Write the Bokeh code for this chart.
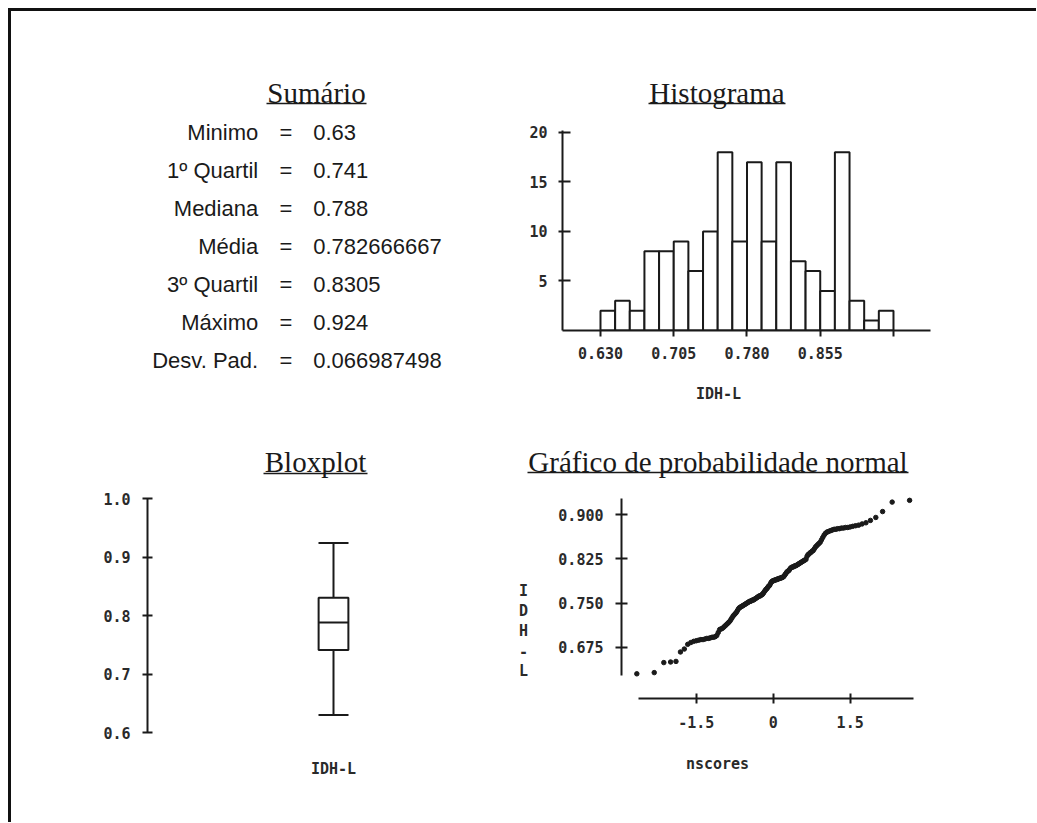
from statistics import NormalDist

from bokeh.plotting import figure
from bokeh.models import (Range1d, FixedTicker, Whisker, TeeHead,
                          Spacer, ColumnDataSource, PrintfTickFormatter)
from bokeh.layouts import row, column
from bokeh.embed import file_html
from bokeh.resources import INLINE
from bokeh.core.properties import value

# ---------------- data ----------------
summary_labels = ["Minimo", "1º Quartil", "Mediana", "Média", "3º Quartil", "Máximo", "Desv. Pad."]
summary_values = ["0.63", "0.741", "0.788", "0.782666667", "0.8305", "0.924", "0.066987498"]

hist_left = [0.630, 0.645, 0.660, 0.675, 0.690, 0.705, 0.720, 0.735, 0.750, 0.765,
             0.780, 0.795, 0.810, 0.825, 0.840, 0.855, 0.870, 0.885, 0.900, 0.915]
hist_right = [0.645, 0.660, 0.675, 0.690, 0.705, 0.720, 0.735, 0.750, 0.765, 0.780,
              0.795, 0.810, 0.825, 0.840, 0.855, 0.870, 0.885, 0.900, 0.915, 0.930]
hist_counts = [2, 3, 2, 8, 8, 9, 6, 10, 18, 9, 17, 9, 17, 7, 6, 4, 18, 3, 1, 2]
hist_ticks = [0.630, 0.705, 0.780, 0.855]
hist_minor = [0.930]
hist_yticks = [5, 10, 15, 20]

box_category = ["IDH-L"]
box_min = [0.63]
box_q1 = [0.741]
box_median = [0.788]
box_q3 = [0.8305]
box_max = [0.924]
box_yticks = [0.6, 0.7, 0.8, 0.9, 1.0]

idh_sorted = [
    0.630, 0.632,
    0.649, 0.650, 0.651,
    0.667, 0.672,
    0.680, 0.683, 0.685, 0.686, 0.687, 0.688, 0.688, 0.689,
    0.690, 0.690, 0.691, 0.692, 0.692, 0.693, 0.695, 0.700,
    0.705, 0.706, 0.707, 0.709, 0.711, 0.713, 0.715, 0.717, 0.719,
    0.722, 0.725, 0.728, 0.730, 0.732, 0.734,
    0.737, 0.740, 0.742, 0.743, 0.744, 0.745, 0.746, 0.747, 0.748, 0.749,
    0.750, 0.751, 0.752, 0.753, 0.753, 0.754, 0.755, 0.755, 0.756, 0.757, 0.758, 0.759,
    0.760, 0.761, 0.762, 0.762, 0.763, 0.764,
    0.765, 0.767, 0.769, 0.771, 0.773, 0.774, 0.776, 0.778, 0.779,
    0.781, 0.784, 0.786, 0.787, 0.788, 0.788, 0.789, 0.789, 0.790, 0.790, 0.791, 0.791,
    0.792, 0.792, 0.793, 0.793, 0.794,
    0.795, 0.797, 0.799, 0.801, 0.803, 0.804, 0.805, 0.807, 0.809,
    0.810, 0.811, 0.811, 0.812, 0.813, 0.813, 0.814, 0.815, 0.816, 0.817, 0.818, 0.819,
    0.820, 0.821, 0.822, 0.823, 0.824,
    0.829, 0.832, 0.833, 0.835, 0.836, 0.838, 0.839,
    0.842, 0.845, 0.847, 0.849, 0.851, 0.853,
    0.857, 0.861, 0.865, 0.868,
    0.870, 0.871, 0.872, 0.873, 0.874, 0.875, 0.875, 0.876, 0.876, 0.877, 0.877, 0.878,
    0.878, 0.879, 0.880, 0.881, 0.882, 0.884,
    0.886, 0.890, 0.895,
    0.905,
    0.921, 0.924,
]
qq_xticks = [-1.5, 0.0, 1.5]
qq_xlabels = {-1.5: "-1.5", 0: "0", 1.5: "1.5"}
qq_yticks = [0.675, 0.750, 0.825, 0.900]
qq_ylabel_chars = ["I", "D", "H", "-", "L"]

# normal scores (Blom) of the ranks = the "nscores" column of the chart
n_obs = len(idh_sorted)
nscores = [NormalDist().inv_cdf((i - 0.375) / (n_obs + 0.25)) for i in range(1, n_obs + 1)]

# ---------------- style ----------------
INK = "#1a1a1a"
LBL = "#2a2a2a"
SERIF = "Liberation Serif"
SANS = "Liberation Sans"
MONO = "DejaVu Sans Mono"
MONO_SIZE = "15px"


class Panel:
    """A figure plus the page-pixel box of its frame, to place decorations."""

    def __init__(self, w, h, xr, yr, L, R, T, B, page_left, page_top, axes=True, cat=None):
        kw = {}
        if not axes:
            kw = dict(x_axis_location=None, y_axis_location=None)
        self.p = figure(width=w, height=h, x_range=xr, y_range=yr, output_backend="svg",
                        toolbar_location=None, tools="",
                        min_border_left=L - page_left, min_border_right=page_left + w - R,
                        min_border_top=T - page_top, min_border_bottom=page_top + h - B, **kw)
        p = self.p
        p.outline_line_color = None
        p.grid.visible = False
        p.background_fill_color = "white"
        p.border_fill_color = "white"
        self.L, self.R, self.T, self.B = L, R, T, B
        self.cat = cat
        if cat is None:
            self.x0, self.x1 = xr.start, xr.end
        else:
            self.x0, self.x1 = 0.0, 1.0
        self.y0, self.y1 = yr.start, yr.end

    def dx(self, px):
        v = self.x0 + (px - self.L) / (self.R - self.L) * (self.x1 - self.x0)
        if self.cat is not None:
            return (self.cat, v - 0.5)
        return v

    def dy(self, py):
        return self.y0 + (self.B - py) / (self.B - self.T) * (self.y1 - self.y0)

    def title(self, text, cx, cy, ul_left, ul_right, ul_y):
        self.p.text(x=[self.dx(cx)], y=[self.dy(cy)], text=[text], text_font=value(SERIF),
                    text_font_size="29px", text_color=INK, text_align="center",
                    text_baseline="middle", level="overlay")
        self.p.segment(x0=[self.dx(ul_left)], y0=[self.dy(ul_y)], x1=[self.dx(ul_right)],
                       y1=[self.dy(ul_y)], line_color=INK, line_width=1.6, level="overlay")

    def note(self, texts, cxs, cys):
        self.p.text(x=[self.dx(c) for c in cxs], y=[self.dy(c) for c in cys], text=texts,
                    text_font=value(MONO), text_font_size=MONO_SIZE, text_font_style="bold",
                    text_color=LBL, text_align="center", text_baseline="middle", level="overlay")


def style_axis(ax, tick_in, tick_out, standoff):
    ax.axis_line_width = 2
    ax.axis_line_color = INK
    ax.major_tick_line_width = 2
    ax.major_tick_line_color = INK
    ax.major_tick_in = tick_in
    ax.major_tick_out = tick_out
    ax.minor_tick_line_color = None
    ax.major_label_text_font = MONO
    ax.major_label_text_font_size = MONO_SIZE
    ax.major_label_text_font_style = "bold"
    ax.major_label_text_color = LBL
    ax.major_label_standoff = standoff


# Figures in a row share top/bottom borders, so:
# row 1 frames span page y 130..330 ; row 2 frames span page y 490..732

# ---------------- Sumário ----------------
# panel: page x 11..500, y 11..420 ; text rows at page y 131.7 + 38.05*i
row_idx = list(range(len(summary_labels)))
S = Panel(489, 409, Range1d(0, 489), Range1d(5.2116, -0.0447), 11, 500, 130, 330, 11, 11, axes=False)
src = ColumnDataSource(dict(row=row_idx, label=summary_labels, eq=["="] * len(row_idx),
                            val=summary_values))
for xpos, col, align in [(257.7, "label", "right"), (285.5, "eq", "center"), (312.7, "val", "left")]:
    S.p.text(x=S.dx(xpos), y="row", text=col, source=src, text_align=align, text_baseline="middle",
             text_font=value(SANS), text_font_size="22px", text_color=INK, level="overlay")
S.title("Sumário", 316, 92, 266, 366, 103)

# ---------------- Histograma ----------------
# panel: page x 500..1029, y 11..420 ; frame 562..930 x 130..330
H = Panel(529, 409, Range1d(0.5911, 0.9679), Range1d(0, 20.2), 562, 930, 130, 330, 500, 11)
ph = H.p
ph.quad(left=hist_left, right=hist_right, top=hist_counts, bottom=0,
        fill_color="white", line_color=INK, line_width=2)
style_axis(ph.xaxis[0], 0, 6, 10)
ph.xaxis[0].ticker = FixedTicker(ticks=hist_ticks, minor_ticks=hist_minor)
ph.xaxis[0].formatter = PrintfTickFormatter(format="%.3f")
ph.xaxis[0].minor_tick_line_color = INK
ph.xaxis[0].minor_tick_line_width = 2
ph.xaxis[0].minor_tick_in = 0
ph.xaxis[0].minor_tick_out = 6
style_axis(ph.yaxis[0], 8, 4, 11)
ph.yaxis[0].ticker = FixedTicker(ticks=hist_yticks)
H.title("Histograma", 716.5, 92, 648, 785, 103)
H.note(["IDH-L"], [718], [393])

# ---------------- Bloxplot ----------------
# panel: page x 11..519, y 420..815 ; frame 147..519 x 490..732 (axis drawn 0.6..1.0)
Bx = Panel(508, 395, box_category, Range1d(0.6, 1.01368), 147, 519, 490, 732, 11, 420,
           cat=box_category[0])
pb = Bx.p
bsrc = ColumnDataSource(dict(cat=box_category, lo=box_min, q1=box_q1, med=box_median,
                             q3=box_q3, hi=box_max))
pb.add_layout(Whisker(source=bsrc, base="cat", lower="lo", upper="hi", dimension="height",
                      line_color=INK, line_width=2, level="underlay",
                      lower_head=TeeHead(size=30, line_color=INK, line_width=2),
                      upper_head=TeeHead(size=30, line_color=INK, line_width=2)))
pb.vbar(x="cat", bottom="q1", top="q3", width=0.08, source=bsrc,
        fill_color="white", line_color=INK, line_width=2)
pb.vbar(x="cat", bottom="med", top="med", width=0.08, source=bsrc,
        fill_alpha=0, line_color=INK, line_width=2)
style_axis(pb.yaxis[0], 5, 5, 12)
pb.yaxis[0].ticker = FixedTicker(ticks=box_yticks)
pb.yaxis[0].formatter = PrintfTickFormatter(format="%.1f")
pb.yaxis[0].bounds = (0.6, 1.0)
style_axis(pb.xaxis[0], 0, 0, 27)
pb.xaxis[0].axis_line_color = None
pb.xaxis[0].major_tick_line_color = None
Bx.title("Bloxplot", 315, 461, 263, 367, 473)

# ---------------- Gráfico de probabilidade normal ----------------
# panel: page x 519..1029, y 420..815 ; frame 621..920 x 490..732, x axis fixed at page y 698
Q = Panel(510, 395, Range1d(-2.957, 2.871), Range1d(0.5305, 0.9407), 621, 920, 490, 732, 519, 420)
pq = Q.p
pq.scatter(x=nscores, y=idh_sorted, size=4.5, marker="circle", color=INK)
style_axis(pq.xaxis[0], 5, 5, 12)
pq.xaxis[0].ticker = FixedTicker(ticks=qq_xticks)
pq.xaxis[0].bounds = (-2.625, 2.735)
pq.xaxis[0].fixed_location = Q.dy(698)
pq.xaxis[0].major_label_overrides = qq_xlabels
style_axis(pq.yaxis[0], 6, 6, 12)
pq.yaxis[0].ticker = FixedTicker(ticks=qq_yticks)
pq.yaxis[0].formatter = PrintfTickFormatter(format="%.3f")
pq.yaxis[0].bounds = (0.627, 0.927)
Q.title("Gráfico de probabilidade normal", 717.5, 461, 527, 908, 472)
Q.note(["nscores"], [717], [763])
Q.note(qq_ylabel_chars, [523] * 5, [590, 610, 630, 650, 670])

# ---------------- page ----------------
top_line = Spacer(width=1028, height=3, styles={"background-color": "#111111"})
left_line = Spacer(width=3, height=811, styles={"background-color": "#111111"})
content = column(row(S.p, H.p), row(Bx.p, Q.p))
framed = column(top_line, row(left_line, content))
page = column(Spacer(width=1036, height=8), row(Spacer(width=8, height=814), framed))

open("out.html", "w").write(file_html(page, INLINE))
